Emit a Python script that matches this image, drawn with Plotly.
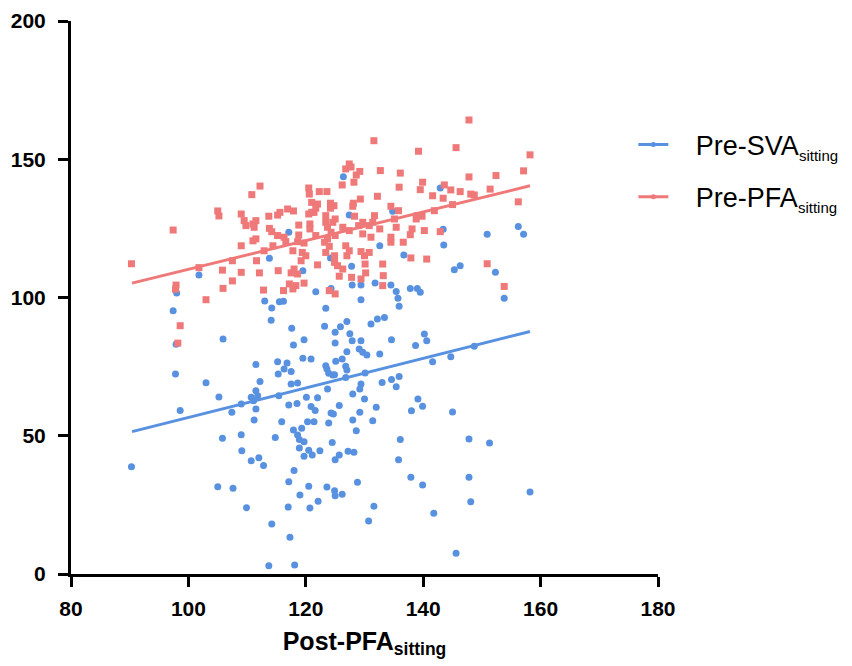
import plotly.graph_objects as go

# Pre-SVA (sitting) vs Post-PFA (sitting)
sva_x = [126.4, 127.4, 117.1, 132.6, 124.2, 113.8,
         142.9, 134.8, 143.4, 143.5, 150.9, 156.2, 157.1, 136.7,
         101.8, 98.0, 97.4, 97.9, 105.9, 97.8, 103.0, 105.2, 98.6, 107.4,
         90.3, 105.8, 105.0, 107.6,
         127.8, 119.5, 127.9, 129.4, 131.8, 124.3, 121.7, 129.4, 113.0, 115.5,
         116.2, 123.4, 114.2, 114.1, 133.4, 132.2, 131.1, 127.0, 125.9, 123.2,
         117.6, 125.0, 127.5, 127.9, 129.4, 119.7, 125.0, 117.9, 129.1, 129.7,
         130.4, 127.0, 132.6, 119.5, 120.9, 125.1, 126.2, 115.2, 116.8, 111.5,
         116.3, 115.3, 117.5, 123.4, 123.6, 123.9, 124.6, 124.9, 126.8, 127.0,
         130.1, 126.8, 133.0, 112.2, 117.5, 118.6, 123.7, 129.4, 129.2, 128.0,
         130.0, 111.5, 111.8, 110.7, 111.1, 115.4, 109.0, 120.1, 122.0, 117.1,
         118.5, 120.9, 121.6, 125.7, 111.5, 124.3, 124.7, 129.2, 132.0,
         111.2, 115.9, 120.3, 121.4, 123.9, 128.0, 131.4, 109.0, 114.8, 117.9,
         119.3, 118.6, 118.9, 119.7, 128.6, 124.5, 109.1, 118.9, 120.5, 121.1,
         119.7, 122.4, 112.0, 110.7, 112.8, 125.7, 125.0, 127.2, 128.2, 118.0,
         117.1, 128.8, 120.5, 123.6, 124.9, 125.0, 126.2, 119.0, 122.1, 109.9,
         117.0, 120.7, 131.6, 130.7, 114.2, 117.3, 113.7, 118.1,
         145.3, 146.3, 152.3, 153.8, 134.5, 135.4, 135.7, 135.9, 137.8, 139.0,
         139.5, 134.6, 140.2, 140.6, 138.7, 144.7, 148.7, 141.6, 135.9, 134.6,
         135.4, 139.1, 139.9, 138.0, 145.0,
         136.1, 147.8, 151.3, 135.8, 137.9, 139.9, 147.8, 148.1, 141.8, 158.2, 145.6]
sva_y = [143.7, 129.8, 123.6, 118.7, 114.3, 114.2,
         139.6, 131.2, 124.7, 119.0, 122.9, 125.7, 122.9, 115.4,
         108.1, 101.6, 95.2, 83.1, 85.0, 72.3, 69.2, 64.0, 59.1, 58.5,
         38.8, 49.1, 31.6, 31.0,
         111.3, 109.7, 104.5, 104.5, 105.2, 103.3, 102.1, 99.2, 98.7, 98.5,
         98.6, 96.1, 96.2, 91.8, 92.8, 92.2, 90.4, 91.3, 89.4, 89.6,
         88.9, 87.4, 86.9, 84.4, 84.4, 84.7, 83.5, 82.8, 81.4, 80.2,
         79.2, 80.4, 79.6, 78.0, 77.8, 76.9, 77.8, 76.8, 76.3, 75.8,
         74.1, 72.3, 73.2, 75.3, 74.1, 72.6, 72.0, 72.1, 75.1, 73.8,
         72.7, 71.1, 69.3, 69.6, 68.7, 69.1, 66.9, 68.7, 66.9, 65.1,
         63.3, 66.3, 64.5, 63.9, 62.7, 64.5, 61.5, 63.9, 63.7, 61.1,
         61.7, 60.6, 59.1, 60.9, 59.7, 58.2, 57.9, 58.5, 60.3,
         55.7, 55.1, 55.1, 55.1, 54.6, 55.7, 55.4, 50.4, 49.4, 52.1,
         52.7, 50.3, 48.6, 47.8, 51.8, 47.6, 44.6, 45.6, 44.8, 43.0,
         42.6, 44.6, 42.0, 41.0, 39.2, 43.0, 41.3, 44.4, 44.0, 37.4,
         33.4, 33.2, 31.7, 31.5, 30.1, 28.3, 28.8, 28.6, 26.3, 24.0,
         24.2, 23.9, 24.5, 19.2, 18.1, 13.3, 3.0, 3.3,
         110.0, 111.5, 109.1, 99.7, 104.5, 102.2, 99.7, 96.8, 103.3, 103.3,
         101.9, 84.7, 86.8, 84.4, 82.6, 78.6, 82.4, 76.8, 71.4, 70.3,
         67.7, 63.3, 60.7, 59.0, 58.6,
         48.6, 48.8, 47.4, 41.3, 35.0, 32.2, 35.0, 26.1, 22.0, 29.7, 7.5]

# Pre-PFA (sitting) vs Post-PFA (sitting)
pfa_x = [105.0, 105.2, 97.4,
         131.6, 132.7, 127.4, 127.7, 126.8, 129.2, 128.6, 126.2, 128.2, 112.2,
         110.8, 120.5, 120.6, 122.3, 123.6, 132.2, 129.3, 128.1, 128.0, 121.0,
         122.0, 121.7, 121.4, 124.2, 124.8, 124.2, 109.0, 109.5, 111.0, 111.5,
         113.7, 115.2, 115.6, 116.9, 117.9, 120.5, 121.0, 123.4, 125.0, 124.6,
         123.4, 128.3, 129.7, 129.0, 131.7, 131.4, 111.2, 109.8, 113.8, 114.2,
         115.2, 118.8, 118.8, 120.7, 120.7, 121.7, 123.7, 124.3, 123.7, 125.0,
         126.3, 127.4, 129.7, 130.8, 132.6, 131.1, 111.0, 111.5, 109.0, 116.3,
         116.6, 118.6, 119.7, 117.8, 119.4, 114.4, 112.9, 123.2, 124.0, 123.4,
         126.8, 127.4, 127.0, 129.4, 130.0, 130.8, 124.9, 120.0,
         147.8, 139.2, 145.6, 158.2, 157.1, 136.1, 135.9, 139.9, 139.5, 143.6,
         144.7, 146.3, 147.8, 152.4, 141.6, 143.4, 148.1, 148.7, 151.4, 156.2,
         145.0, 141.9, 134.5, 135.8, 135.1, 135.4, 134.5, 134.5, 139.0, 139.8,
         138.8, 138.1, 137.8, 140.2, 142.9, 136.6, 137.9, 140.6,
         90.3, 97.9, 97.8, 101.8, 105.8, 107.5, 107.5, 105.9, 103.0, 98.6, 98.2,
         109.0, 112.1, 111.6, 115.3, 117.5, 118.0, 118.6, 119.2, 122.0, 124.9,
         125.4, 126.3, 130.1, 130.2, 133.1, 133.2, 125.7, 127.8, 129.4, 117.2,
         118.3, 119.7, 117.8, 112.8, 116.2, 124.0, 125.0, 133.1,
         150.9, 153.8]
pfa_y = [131.3, 129.5, 124.4,
         156.7, 145.9, 148.3, 147.2, 146.5, 145.6, 144.3, 140.7, 141.7, 140.3,
         137.2, 139.6, 137.4, 138.3, 138.3, 136.6, 135.6, 134.1, 133.0, 134.4,
         133.8, 132.3, 130.8, 134.1, 133.2, 132.3, 130.2, 127.8, 126.6, 127.8,
         129.4, 129.8, 130.8, 132.0, 131.3, 130.2, 130.8, 129.6, 128.4, 127.2,
         127.2, 129.4, 127.2, 126.0, 129.6, 127.2, 125.4, 126.0, 125.0, 123.8,
         122.4, 126.2, 122.6, 126.6, 124.8, 122.4, 125.4, 123.6, 121.2, 122.4,
         125.4, 124.2, 123.0, 126.0, 124.8, 121.8, 120.5, 121.2, 118.7, 121.8,
         120.2, 120.2, 119.7, 116.9, 116.3, 118.7, 116.9, 120.0, 118.5, 116.3,
         118.7, 116.9, 115.1, 116.6, 115.1, 116.3, 115.1, 115.1,
         164.2, 152.9, 154.2, 151.6, 145.8, 145.0, 139.9, 141.7, 139.0, 140.7,
         138.9, 138.3, 143.6, 144.1, 136.8, 135.9, 137.4, 137.1, 139.2, 134.6,
         133.6, 131.4, 133.0, 131.4, 128.4, 125.4, 121.8, 120.0, 129.6, 129.4,
         128.4, 124.8, 122.7, 124.2, 123.8, 120.0, 114.3, 113.9,
         112.2, 104.5, 103.0, 110.8, 109.9, 106.0, 113.3, 103.3, 99.2, 89.8, 83.5,
         109.1, 108.9, 113.3, 109.7, 108.9, 110.3, 108.5, 113.3, 111.8, 112.7,
         111.5, 110.3, 112.1, 108.9, 112.1, 107.9, 107.7, 107.3, 106.7, 104.9,
         104.3, 105.2, 103.1, 102.7, 102.5, 102.5, 101.3, 104.3,
         112.2, 104.0]

# Linear fit lines (endpoints over the Post-PFA range)
fit_x = [90.4, 158.2]
sva_fit_y = [51.5, 87.7]
pfa_fit_y = [105.2, 140.4]

x_ticks = [80, 100, 120, 140, 160, 180]
y_ticks = [0, 50, 100, 150, 200]

BLUE = "#5891E0"
RED = "#EF7878"
FONT = "Liberation Sans, Arial, sans-serif"
PAD = "&nbsp;&nbsp;&nbsp;"
SUB = "<sub><span style='font-size:15px'>sitting</span></sub>"

fig = go.Figure()

fig.add_trace(go.Scatter(x=sva_x, y=sva_y, mode="markers", showlegend=False,
                         marker=dict(symbol="circle", size=7, color=BLUE)))
fig.add_trace(go.Scatter(x=pfa_x, y=pfa_y, mode="markers", showlegend=False,
                         marker=dict(symbol="square", size=7, color=RED)))
fig.add_trace(go.Scatter(x=fit_x, y=pfa_fit_y, mode="lines", showlegend=False,
                         line=dict(color=RED, width=3)))
fig.add_trace(go.Scatter(x=fit_x, y=sva_fit_y, mode="lines", showlegend=False,
                         line=dict(color=BLUE, width=3)))

# legend entries
fig.add_trace(go.Scatter(x=[None], y=[None], mode="lines+markers",
                         name=PAD + "Pre-SVA" + SUB, legendgroup="a",
                         line=dict(color=BLUE, width=3),
                         marker=dict(symbol="circle", size=5, color=BLUE)))
fig.add_trace(go.Scatter(x=[None], y=[None], mode="lines+markers",
                         name=PAD + "Pre-PFA" + SUB, legendgroup="b",
                         line=dict(color=RED, width=3),
                         marker=dict(symbol="circle", size=5, color=RED)))

axis_common = dict(
    showline=True, linecolor="black", linewidth=3,
    ticks="outside", ticklen=10, tickwidth=3, tickcolor="black",
    showgrid=False, zeroline=False,
    tickfont=dict(family=FONT, size=21, color="black", weight="bold"),
)

fig.update_xaxes(range=[80, 180], tickvals=x_ticks,
                 ticktext=["<b>%d</b>" % v for v in x_ticks],
                 ticklabelstandoff=4,
                 title=dict(text="<b>Post-PFA<sub>sitting</sub></b>", standoff=14,
                            font=dict(family=FONT, size=25, color="black")),
                 **axis_common)
fig.update_yaxes(range=[0, 200], tickvals=y_ticks,
                 ticktext=["<b>%d</b>" % v for v in y_ticks],
                 ticklabelstandoff=8,
                 **axis_common)

fig.update_layout(
    width=852, height=666,
    margin=dict(l=71, r=194, t=21, b=92, autoexpand=False),
    plot_bgcolor="white", paper_bgcolor="white",
    legend=dict(x=0.958, y=0.82, xanchor="left", yanchor="top",
                traceorder="grouped", tracegroupgap=14,
                font=dict(family=FONT, size=27, color="black"),
                bgcolor="rgba(0,0,0,0)"),
)

fig.write_html("out.html")
